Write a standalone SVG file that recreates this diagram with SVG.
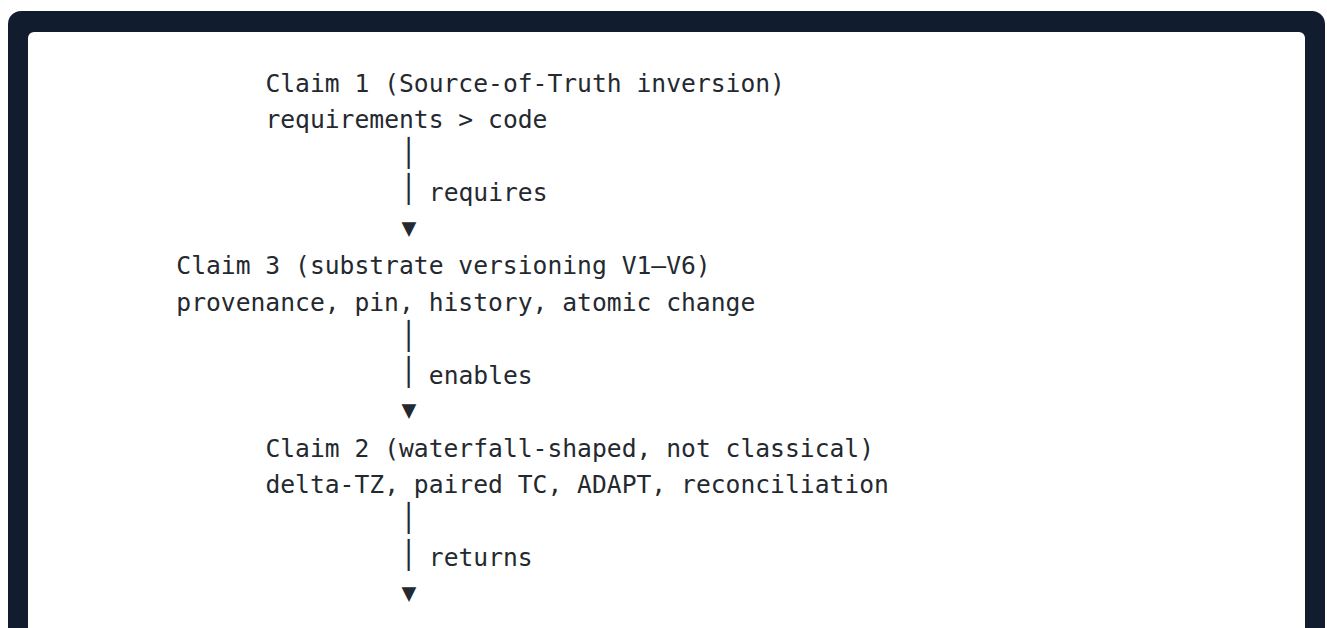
<svg xmlns="http://www.w3.org/2000/svg" width="1327" height="628" viewBox="0 0 1327 628">
<style>
.t{font-family:"DejaVu Sans Mono","Liberation Mono",monospace;font-size:24.67px;fill:#24292f;white-space:pre}
.bar{font-family:"DejaVu Sans Mono","Liberation Mono",monospace;font-size:27px;fill:#24292f}
</style>
<rect width="1327" height="628" fill="#ffffff"/>
<rect x="8" y="11" width="1317" height="640" rx="13" fill="#111c2e"/>
<rect x="28" y="32" width="1277" height="620" rx="6" fill="#ffffff"/>
<g id="claim1">
<text class="t" x="265.4" y="91.5">Claim 1 (Source-of-Truth inversion)</text>
<text class="t" x="265.4" y="128">requirements &gt; code</text>
</g>
<g id="claim3">
<text class="t" x="176.3" y="274">Claim 3 (substrate versioning V1–V6)</text>
<text class="t" x="176.3" y="310.7">provenance, pin, history, atomic change</text>
</g>
<g id="claim2">
<text class="t" x="265.4" y="456.8">Claim 2 (waterfall-shaped, not classical)</text>
<text class="t" x="265.4" y="493.3">delta-TZ, paired TC, ADAPT, reconciliation</text>
</g>
<g id="connectors">
<text class="bar" x="400.4" y="161.9">│</text>
<text class="bar" x="400.4" y="198.4">│</text>
<text class="t" x="428.8" y="201.1">requires</text>
<text class="t" x="401.5" y="235.6">▼</text>
<text class="bar" x="400.4" y="344.5">│</text>
<text class="bar" x="400.4" y="381">│</text>
<text class="t" x="428.8" y="383.7">enables</text>
<text class="t" x="401.5" y="418.3">▼</text>
<text class="bar" x="400.4" y="527.2">│</text>
<text class="bar" x="400.4" y="563.7">│</text>
<text class="t" x="428.8" y="566.4">returns</text>
<text class="t" x="401.5" y="600.9">▼</text>
</g>
</svg>
